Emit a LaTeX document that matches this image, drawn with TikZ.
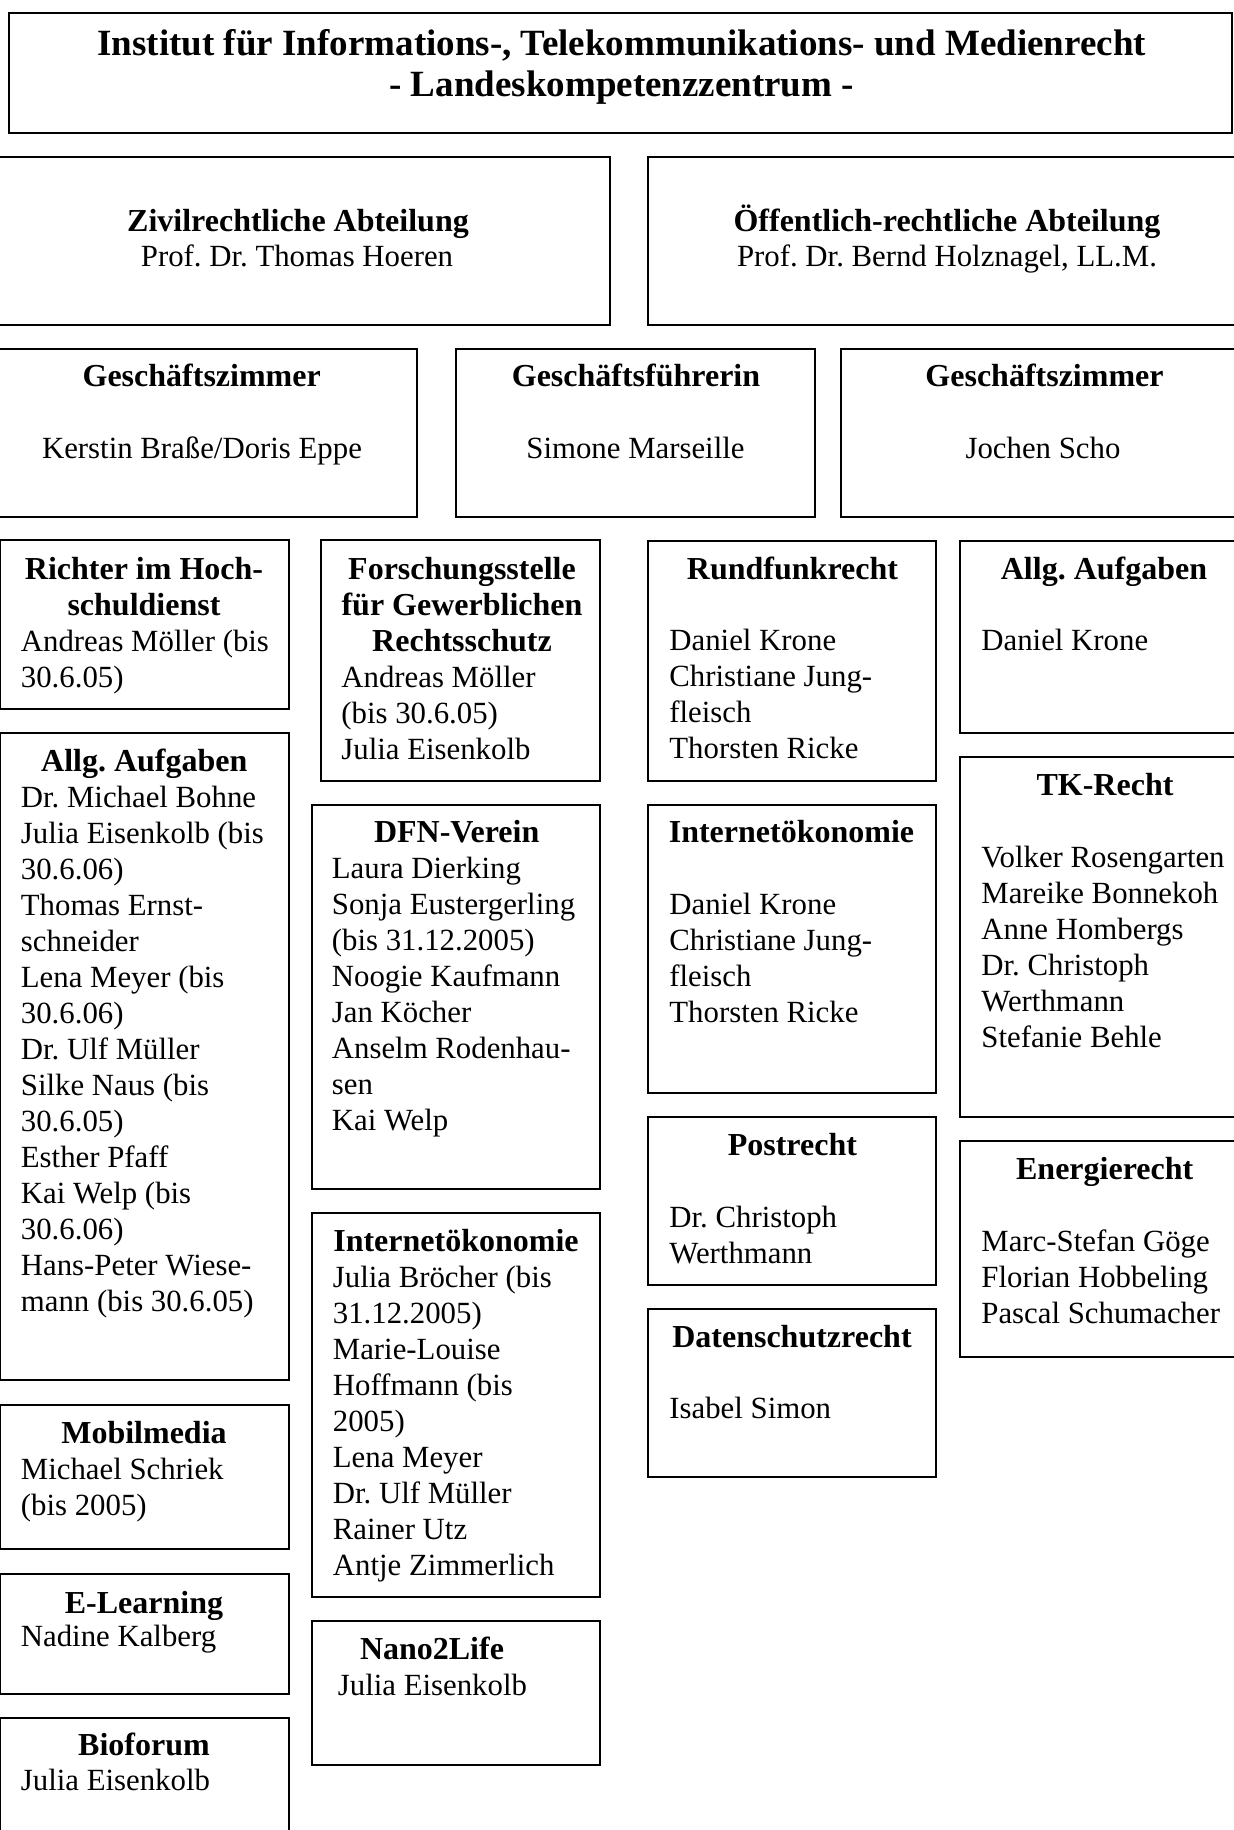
\documentclass[tikz,border=0pt]{standalone}
\usepackage{fontspec}
\setmainfont{Liberation Serif}
\usepackage{tikz}
\frenchspacing

\newcommand{\namefont}{\fontsize{15.4}{18}\selectfont}
\newcommand{\headfont}{\fontsize{16}{18}\selectfont\bfseries}
\newcommand{\titlefont}{\fontsize{18.5}{20.7}\selectfont\bfseries}
\newcommand{\namerows}[1]{\parbox[t]{140pt}{\raggedright #1}}
\newcommand{\headrows}[1]{\parbox[t]{600pt}{\centering #1}}

\tikzset{
  orgbox/.style={draw, line width=1pt},
  boxhead/.style={anchor=base, inner sep=0pt, font=\headfont},
  boxnames/.style={anchor=base west, inner sep=0pt, font=\namefont},
}

\begin{document}
\begin{tikzpicture}[x=0.5pt, y=-0.5pt]

\useasboundingbox (0,0) rectangle (1234,1830);

% Institut
\draw[orgbox] (9.4,12.7) rectangle (1231.5,132.6);
\node[boxhead, font=\titlefont] (titel) at (621.7,55.5)
  {\headrows{Institut für Informations-, Telekommunikations- und Medienrecht\\- Landeskompetenzzentrum -}};

% Abteilungen
\draw[orgbox] (-14,156.7) rectangle (610,324.8);
\draw[orgbox] (648,156.7) rectangle (1249,324.8);
\node[boxhead] (zivil) at (298,231.4) {Zivilrechtliche Abteilung};
\node[boxhead, font=\namefont] (hoeren) at (297,266.9) {Prof. Dr. Thomas Hoeren};
\node[boxhead] (oeff) at (947,231.4) {Öffentlich-rechtliche Abteilung};
\node[boxhead, font=\namefont] (holznagel) at (947,266.9) {Prof. Dr. Bernd Holznagel, LL.M.};

% Geschaeftszimmer / Geschaeftsfuehrung
\draw[orgbox] (-14,348.5) rectangle (417,516.6);
\draw[orgbox] (456,348.5) rectangle (815,516.6);
\draw[orgbox] (840.5,348.5) rectangle (1249,516.6);
\node[boxhead] (gz1) at (201.7,386) {Geschäftszimmer};
\node[boxhead, font=\namefont] (gz1n) at (202,458.5) {Kerstin Braße/Doris Eppe};
\node[boxhead] (gf) at (636,386) {Geschäftsführerin};
\node[boxhead, font=\namefont] (gfn) at (635.5,458.5) {Simone Marseille};
\node[boxhead] (gz2) at (1044.5,386) {Geschäftszimmer};
\node[boxhead, font=\namefont] (gz2n) at (1043,458.5) {Jochen Scho};

% linke Spalte
\draw[orgbox] (0,540) rectangle (288.6,708.6);      % Richter
\draw[orgbox] (0,733) rectangle (288.6,1380);       % Allg. Aufgaben
\draw[orgbox] (0,1405) rectangle (288.6,1549);      % Mobilmedia
\draw[orgbox] (0,1573.5) rectangle (288.6,1693.5);  % E-Learning
\draw[orgbox] (0,1717.5) rectangle (288.6,1840);    % Bioforum

\node[boxhead] (richter) at (144,579) {\headrows{Richter im Hoch-\\schuldienst}};
\node[boxnames] (richtern) at (20.5,651) {\namerows{Andreas Möller (bis\\30.6.05)}};

\node[boxhead] (allgl) at (144.3,771) {Allg. Aufgaben};
\node[boxnames] (allgln) at (20.5,807) {\namerows{Dr. Michael Bohne\\Julia Eisenkolb (bis\\30.6.06)\\Thomas Ernst-\\schneider\\Lena Meyer (bis\\30.6.06)\\Dr. Ulf Müller\\Silke Naus (bis\\30.6.05)\\Esther Pfaff\\Kai Welp (bis\\30.6.06)\\Hans-Peter Wiese-\\mann (bis 30.6.05)}};

\node[boxhead] (mobil) at (144,1443.7) {Mobilmedia};
\node[boxnames] (mobiln) at (20.5,1479) {\namerows{Michael Schriek\\(bis 2005)}};

\node[boxhead] (elearn) at (144,1613) {E-Learning};
\node[boxnames] (elearnn) at (20.5,1646) {\namerows{Nadine Kalberg}};

\node[boxhead] (bio) at (144,1755) {Bioforum};
\node[boxnames] (bion) at (20.5,1790) {\namerows{Julia Eisenkolb}};

% zweite Spalte
\draw[orgbox] (321,540) rectangle (600,781);        % Forschungsstelle
\draw[orgbox] (312,804.6) rectangle (600,1188.5);   % DFN
\draw[orgbox] (312,1213) rectangle (600,1596.6);    % Internetoekonomie
\draw[orgbox] (312,1621) rectangle (600,1764.7);    % Nano2Life

\node[boxhead] (forsch) at (462,579) {\headrows{Forschungsstelle\\für Gewerblichen\\Rechtsschutz}};
\node[boxnames] (forschn) at (341,687) {\namerows{Andreas Möller\\(bis 30.6.05)\\Julia Eisenkolb}};

\node[boxhead] (dfn) at (456.7,842.5) {DFN-Verein};
\node[boxnames] (dfnn) at (331.5,878.5) {\namerows{Laura Dierking\\Sonja Eustergerling\\(bis 31.12.2005)\\Noogie Kaufmann\\Jan Köcher\\Anselm Rodenhau-\\sen\\Kai Welp}};

\node[boxhead] (inetl) at (456,1251) {Internetökonomie};
\node[boxnames] (inetln) at (332.5,1287) {\namerows{Julia Bröcher (bis\\31.12.2005)\\Marie-Louise\\Hoffmann (bis\\2005)\\Lena Meyer\\Dr. Ulf Müller\\Rainer Utz\\Antje Zimmerlich}};

\node[boxhead] (nano) at (432,1659.7) {Nano2Life};
\node[boxnames] (nanon) at (337.5,1695.5) {\namerows{Julia Eisenkolb}};

% dritte Spalte
\draw[orgbox] (647.6,541) rectangle (936.3,781);      % Rundfunk
\draw[orgbox] (647.6,804.6) rectangle (936.3,1093.4); % Internetoekonomie
\draw[orgbox] (647.6,1116.6) rectangle (936.3,1284.7);% Post
\draw[orgbox] (647.6,1308.8) rectangle (936.3,1476.8);% Datenschutz

\node[boxhead] (rundf) at (792.5,579) {Rundfunkrecht};
\node[boxnames] (rundfn) at (669,650.5) {\namerows{Daniel Krone\\Christiane Jung-\\fleisch\\Thorsten Ricke}};

\node[boxhead] (inetr) at (791.5,842.5) {Internetökonomie};
\node[boxnames] (inetrn) at (669,914) {\namerows{Daniel Krone\\Christiane Jung-\\fleisch\\Thorsten Ricke}};

\node[boxhead] (post) at (792.4,1155.4) {Postrecht};
\node[boxnames] (postn) at (669,1227) {\namerows{Dr. Christoph\\Werthmann}};

\node[boxhead] (daten) at (792,1347) {Datenschutzrecht};
\node[boxnames] (datenn) at (669,1418.3) {\namerows{Isabel Simon}};

% vierte Spalte
\draw[orgbox] (960.4,541) rectangle (1248,733);       % Allg. Aufgaben
\draw[orgbox] (960.4,756.8) rectangle (1248,1116.6);  % TK-Recht
\draw[orgbox] (960.4,1140.7) rectangle (1248,1357);   % Energierecht

\node[boxhead] (allgr) at (1104,579) {Allg. Aufgaben};
\node[boxnames] (allgrn) at (981,650.5) {\namerows{Daniel Krone}};

\node[boxhead] (tk) at (1105,795.6) {TK-Recht};
\node[boxnames] (tkn) at (981,867) {\namerows{Volker Rosengarten\\Mareike Bonnekoh\\Anne Hombergs\\Dr. Christoph\\Werthmann\\Stefanie Behle}};

\node[boxhead] (energie) at (1104.7,1179) {Energierecht};
\node[boxnames] (energien) at (981,1251) {\namerows{Marc-Stefan Göge\\Florian Hobbeling\\Pascal Schumacher}};

\end{tikzpicture}
\end{document}
